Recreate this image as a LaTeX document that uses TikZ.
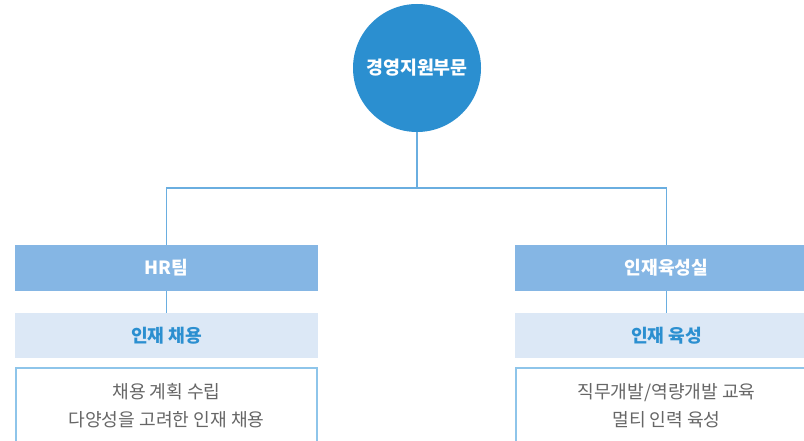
\documentclass[tikz,border=0pt]{standalone}
\usepackage{fontspec}
\setmainfont{Noto Sans CJK KR}
\usetikzlibrary{positioning}
\definecolor{rootblue}{HTML}{2B8FD0}
\definecolor{teamblue}{HTML}{85B6E4}
\definecolor{subblue}{HTML}{DCE8F6}
\definecolor{linkblue}{HTML}{6AAEE0}
\definecolor{edgeblue}{HTML}{8EC5EA}
\definecolor{bodygray}{HTML}{666666}
\tikzset{
  conn/.style={draw=linkblue, line width=0.9pt},
  teambox/.style={rectangle, fill=teamblue, text=white, font=\bfseries\fontsize{15.5}{17}\selectfont,
    minimum width=90.9mm, minimum height=13.8mm, inner sep=0pt},
  subbox/.style={rectangle, fill=subblue, text=rootblue, font=\bfseries\fontsize{15.5}{17}\selectfont,
    minimum width=90.9mm, minimum height=13.5mm, inner sep=0pt},
  bodybox/.style={rectangle, draw=edgeblue, line width=1.5pt, anchor=north,
    minimum width=90.4mm, minimum height=33mm, inner sep=0pt},
  bodytext/.style={text=bodygray, font=\fontsize{15.5}{24}\selectfont, align=center, inner sep=0pt}
}
\begin{document}
\begin{tikzpicture}[x=0.3mm,y=-0.3mm]
  \clip (0,0) rectangle (804,440);
  \fill[white] (0,0) rectangle (804,440);

  % top unit
  \node[circle, fill=rootblue, text=white, minimum size=38.4mm, inner sep=0pt,
        font=\bfseries\fontsize{15.7}{17}\selectfont] (root) at (417,68) {경영지원부문};
  \coordinate (bus) at (417,188);

  % teams
  \node[teambox] (hr) at (166.5,268) {HR팀};
  \node[teambox] (edu) at (666.5,268) {인재육성실};

  \node[subbox] (hrsub) at (166.5,335.5) {인재 채용};
  \node[subbox] (edusub) at (666.5,335.5) {인재 육성};

  \node[bodybox] (hrbody) at (166.5,367) {};
  \node[bodybox] (edubody) at (666.5,367) {};
  \node[bodytext, below=4.8mm of hrbody.north] (hrtext) {채용 계획 수립\\다양성을 고려한 인재 채용};
  \node[bodytext, below=4.8mm of edubody.north] (edutext) {직무개발/역량개발 교육\\멀티 인력 육성};

  % links
  \draw[conn] (root.south) -- (bus);
  \draw[conn] (bus) -| (hr.north);
  \draw[conn] (bus) -| (edu.north);
  \draw[conn] (hr.south) -- (hrsub.north);
  \draw[conn] (edu.south) -- (edusub.north);
\end{tikzpicture}
\end{document}
